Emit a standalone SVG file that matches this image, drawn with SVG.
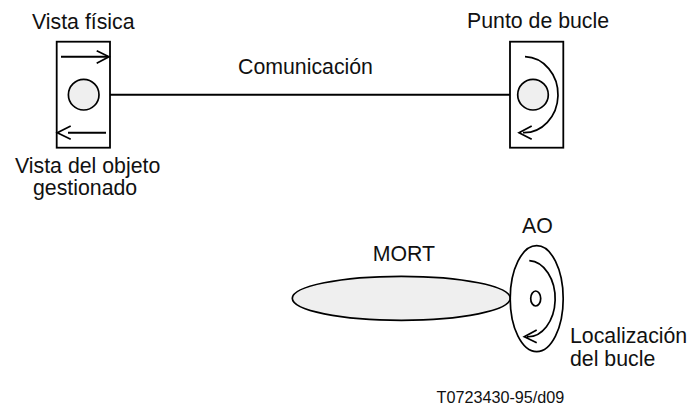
<svg xmlns="http://www.w3.org/2000/svg" width="688" height="409" viewBox="0 0 688 409">
<style>
text{font-family:"Liberation Sans",Arial,sans-serif;font-size:21.3px;fill:#111}
.s{fill:none;stroke:#000;stroke-width:1.7}
.c{fill:none;stroke:#000;stroke-width:2}
.b{fill:#fff;stroke:#000;stroke-width:1.8}
.g{fill:#efefef;stroke:#000;stroke-width:1.7}
</style>
<rect width="688" height="409" fill="#fff"/>
<g id="connectors">
<path class="c" d="M110 94.700H510"/>
</g>
<g id="label-comunicacion"><text x="238" y="74">Comunicación</text></g>
<g id="node-vista-fisica">
<rect class="b" x="56.700" y="41.700" width="53.300" height="106"/>
<circle class="g" cx="83.700" cy="94.700" r="15.300"/>
<path class="c" d="M61 56.700H108M106 132.700H68"/>
<path class="s" d="M96.700 50.700L109 56.700L96.700 63.300M70.700 126L57.300 132.700L70.700 139.300"/>
<text x="32" y="29">Vista física</text>
<text x="15" y="173">Vista del objeto</text>
<text x="33" y="195">gestionado</text>
</g>
<g id="node-punto-bucle">
<rect class="b" x="510" y="41.700" width="53.300" height="106"/>
<circle class="g" cx="533" cy="94.700" r="15.300"/>
<path class="s" d="M525 56.700A34 38 0 0 1 523 132.700M531.700 126L519 132.700L531.700 139.300"/>
<text x="467" y="27.700">Punto de bucle</text>
</g>
<g id="node-mort">
<ellipse class="g" cx="401.300" cy="298.300" rx="109" ry="22"/>
<text x="372.700" y="261">MORT</text>
</g>
<g id="node-ao">
<ellipse class="s" cx="536.700" cy="298.700" rx="26.500" ry="53"/>
<ellipse class="s" cx="535.700" cy="298.500" rx="5" ry="7.500"/>
<path class="s" d="M529.300 260.700A27 38 0 0 1 527 336.700M536.700 330L524.300 336.700L536.700 342.700"/>
<text x="522" y="232.700">AO</text>
<text x="570" y="343">Localización</text>
<text x="570" y="365.500">del bucle</text>
</g>
<g id="label-ref"><text x="436.500" y="403" style="font-size:16.200px">T0723430-95/d09</text></g>
</svg>
